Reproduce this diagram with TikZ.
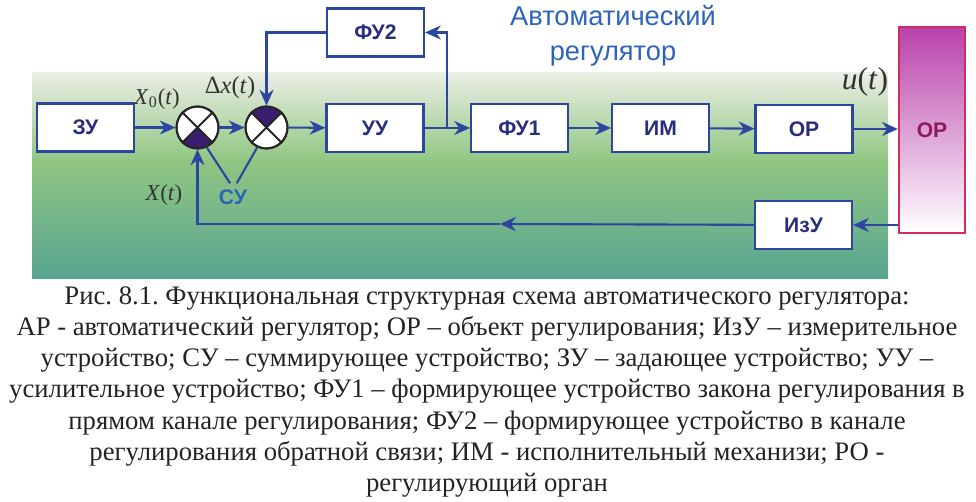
\documentclass[tikz,border=0pt]{standalone}
\usepackage{fontspec}
\setmainfont{Liberation Serif}
\setsansfont{Liberation Sans}
\usepackage{tikz}
\usetikzlibrary{positioning,arrows.meta}
\frenchspacing

\definecolor{lineblue}{RGB}{45,70,160}
\definecolor{textnavy}{RGB}{40,45,125}
\definecolor{sumpurple}{RGB}{60,30,110}
\definecolor{titleblue}{RGB}{45,100,185}
\definecolor{orborder}{RGB}{205,45,95}
\definecolor{ortext}{RGB}{140,25,90}
\definecolor{ortop}{RGB}{185,65,170}
\definecolor{ormid}{RGB}{190,145,210}
\definecolor{bgpale}{RGB}{234,238,228}
\definecolor{bggreen}{RGB}{145,198,130}
\definecolor{bgteal}{RGB}{88,165,145}
\definecolor{captext}{RGB}{35,35,35}

\begin{document}
\begin{tikzpicture}[x=0.02cm,y=0.02cm,
    blk/.style={draw=lineblue, line width=1.2pt, fill=white, minimum width=1.94cm, minimum height=0.96cm,
      font=\sffamily\bfseries\fontsize{12}{13}\selectfont, text=textnavy},
    summer/.style={circle, draw=black!85, line width=1.1pt, fill=white, minimum size=0.84cm, inner sep=0pt},
    arr/.style={-{Stealth[length=9pt,width=8pt]}, draw=lineblue, line width=1.2pt},
    ln/.style={draw=lineblue, line width=1.2pt},
    lbl/.style={font=\fontsize{13}{15}\selectfont, text=black!80}]
    % px grid: x to the right, y up, 976 x 501
    \pgfmathsetmacro{\sumr}{21}
    \useasboundingbox (0,0) rectangle (976,501);
    \shade[top color=bgpale, bottom color=bggreen] (32,340) rectangle (888,428);
    \shade[top color=bggreen, bottom color=bgteal] (32,223) rectangle (888,340.5);

    \node[font=\sffamily\fontsize{15.5}{19.9}\selectfont, text=titleblue, align=center] (title) at (613,465) {Автоматический\\регулятор};

    \node[blk] (zu) at (85.5,373.5) {ЗУ};
    \node[summer] (s1) at (197.5,373.5) {};
    \node[summer] (s2) at (266.5,373.5) {};
    \node[blk] (uu) at (375,373) {УУ};
    \node[blk] (fu2) at (375.5,468.5) {ФУ2};
    \node[blk] (fu1) at (519.5,373) {ФУ1};
    \node[blk] (im) at (660.5,373) {ИМ};
    \node[blk] (orb) at (804,372) {ОР};
    \node[blk] (izu) at (803.5,276) {ИзУ};
    \node[draw=orborder, line width=1.3pt, top color=ortop, middle color=ormid, bottom color=white,
      minimum width=1.32cm, minimum height=4.12cm, font=\sffamily\bfseries\fontsize{12}{13}\selectfont, text=ortext] (ob) at (932,371) {ОР};
    \coordinate (br) at (447,373);
    \coordinate (fb) at (500,277);

    % summers
    \fill[sumpurple] (s1.center) -- ++(225:\sumr) arc[start angle=225, end angle=315, radius=\sumr] -- cycle;
    \fill[sumpurple] (s2.center) -- ++(45:\sumr) arc[start angle=45, end angle=135, radius=\sumr] -- cycle;
    \draw[black!85, line width=1.1pt] (s1.45) -- (s1.225) (s1.135) -- (s1.-45);
    \draw[black!85, line width=1.1pt] (s2.45) -- (s2.225) (s2.135) -- (s2.-45);
    \draw[black!85, line width=1.1pt] (s1) circle[radius=\sumr];
    \draw[black!85, line width=1.1pt] (s2) circle[radius=\sumr];

    \draw[arr] (zu) -- (s1);
    \draw[arr] (s1) -- (s2);
    \draw[arr] (s2) -- (uu);
    \draw[ln] (uu) -- (br);
    \draw[arr] (br) -- (fu1);
    \draw[arr] (br) |- (fu2);
    \draw[arr] (fu2) -| (s2);
    \draw[arr] (fu1) -- (im);
    \draw[arr] (im) -- (orb);
    \draw[arr] (orb) -- (orb -| ob.west);
    \draw[arr] (ob.west |- izu) -- (izu);
    \draw[arr] (izu) -- (fb);
    \draw[arr] (fb) -| (s1);

    \node[lbl] (x0) at (157,402) {\textit{X}\textsubscript{0}(\textit{t})};
    \node[lbl, font=\fontsize{14}{16}\selectfont] (dx) at (230,413) {Δ\textit{x}(\textit{t})};
    \node[lbl] (xt) at (164,306) {\textit{X}(\textit{t})};
    \node[lbl, font=\fontsize{18}{20}\selectfont] (ut) at (865,419) {\textit{u}(\textit{t})};
    \node[font=\sffamily\bfseries\fontsize{12}{13}\selectfont, text=titleblue] (su) at (233,304) {СУ};
    \draw[ln] (s1.-65) -- (su.102);
    \draw[ln] (s2.-115) -- (su.75);

    \node[font=\fontsize{15.2}{17.8}\selectfont, text=captext, align=center, anchor=north, inner sep=0pt] (cap) at (487,215) {Рис. 8.1. Функциональная структурная схема автоматического регулятора:\\
      АР - автоматический регулятор; ОР – объект регулирования; ИзУ – измерительное\\
      устройство; СУ – суммирующее устройство; ЗУ – задающее устройство; УУ –\\
      усилительное устройство; ФУ1 – формирующее устройство закона регулирования в\\
      прямом канале регулирования; ФУ2 – формирующее устройство в канале\\
      регулирования обратной связи; ИМ - исполнительный механизи; РО -\\
      регулирующий орган};
\end{tikzpicture}
\end{document}
